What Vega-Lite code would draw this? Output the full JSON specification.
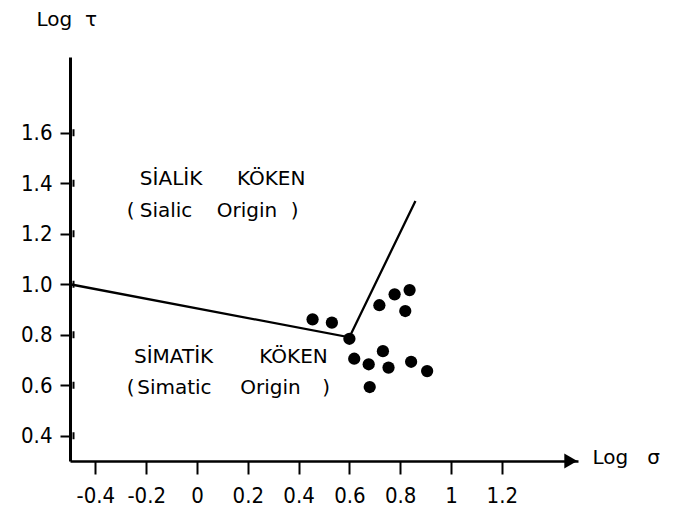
{
  "$schema": "https://vega.github.io/schema/vega-lite/v6.json",
  "width": 508,
  "height": 404,
  "autosize": "none",
  "padding": {"left": 70, "top": 57, "right": 100, "bottom": 51},
  "background": "white",
  "config": {
    "view": {"stroke": null},
    "axis": {"grid": false, "domainColor": "black", "tickColor": "black", "labelColor": "black", "titleColor": "black"}
  },
  "datasets": {
    "boundary": [
      {"x": -0.5, "y": 1.0, "order": 1},
      {"x": 0.6, "y": 0.79, "order": 2},
      {"x": 0.86, "y": 1.33, "order": 3}
    ],
    "samples": [
      {"x": 0.455, "y": 0.861},
      {"x": 0.531, "y": 0.848},
      {"x": 0.600, "y": 0.784},
      {"x": 0.718, "y": 0.917},
      {"x": 0.778, "y": 0.960},
      {"x": 0.837, "y": 0.977},
      {"x": 0.820, "y": 0.894},
      {"x": 0.619, "y": 0.705},
      {"x": 0.676, "y": 0.683},
      {"x": 0.732, "y": 0.735},
      {"x": 0.754, "y": 0.670},
      {"x": 0.843, "y": 0.693},
      {"x": 0.906, "y": 0.656},
      {"x": 0.680, "y": 0.593}
    ],
    "words": [
      {"x": -0.102, "y": 1.395, "text": "SİALİK"},
      {"x": 0.292, "y": 1.395, "text": "KÖKEN"},
      {"x": -0.261, "y": 1.267, "text": "("},
      {"x": -0.122, "y": 1.267, "text": "Sialic"},
      {"x": 0.197, "y": 1.267, "text": "Origin"},
      {"x": 0.384, "y": 1.267, "text": ")"},
      {"x": -0.092, "y": 0.689, "text": "SİMATİK"},
      {"x": 0.380, "y": 0.689, "text": "KÖKEN"},
      {"x": -0.261, "y": 0.564, "text": "("},
      {"x": -0.089, "y": 0.564, "text": "Simatic"},
      {"x": 0.289, "y": 0.564, "text": "Origin"},
      {"x": 0.508, "y": 0.564, "text": ")"}
    ],
    "arrow": [{"x": 1.4716, "y": 0.3}],
    "yticks": [
      {"y": 0.4}, {"y": 0.6}, {"y": 0.8}, {"y": 1.0}, {"y": 1.2}, {"y": 1.4}, {"y": 1.6}
    ]
  },
  "layer": [
    {
      "data": {"name": "boundary"},
      "mark": {"type": "line", "color": "black", "strokeWidth": 2.3},
      "encoding": {
        "x": {
          "field": "x",
          "type": "quantitative",
          "scale": {"domain": [-0.5, 1.5], "nice": false, "zero": false},
          "axis": {
            "values": [-0.4, -0.2, 0, 0.2, 0.4, 0.6, 0.8, 1, 1.2],
            "format": "~g",
            "labelExpr": "replace(datum.label, '\u2212', '-')",
            "domainWidth": 2.5,
            "tickWidth": 2,
            "tickSize": 13,
            "labelPadding": 11,
            "labelFont": "Liberation Sans Narrow, DejaVu Sans Condensed, sans-serif",
            "labelFontSize": 22,
            "title": "Log\u00a0\u00a0\u00a0σ",
            "titleFont": "DejaVu Sans",
            "titleFontSize": 20,
            "titleFontWeight": "normal",
            "titleAlign": "left",
            "titleBaseline": "alphabetic",
            "titleAnchor": "start",
            "titleX": 522,
            "titleY": 2
          }
        },
        "y": {
          "field": "y",
          "type": "quantitative",
          "scale": {"domain": [0.3, 1.9], "nice": false, "zero": false},
          "axis": {
            "orient": "left",
            "values": [0.4, 0.6, 0.8, 1.0, 1.2, 1.4, 1.6],
            "format": ".1f",
            "domainWidth": 3,
            "tickWidth": 2,
            "tickSize": 10,
            "labelPadding": 8,
            "labelFont": "Liberation Sans Narrow, DejaVu Sans Condensed, sans-serif",
            "labelFontSize": 22,
            "title": "Log\u00a0\u00a0τ",
            "titleFont": "DejaVu Sans",
            "titleFontSize": 20,
            "titleFontWeight": "normal",
            "titleAngle": 0,
            "titleAlign": "left",
            "titleBaseline": "alphabetic",
            "titleAnchor": "start",
            "titleX": -34,
            "titleY": -32
          }
        },
        "order": {"field": "order", "type": "quantitative"}
      }
    },
    {
      "data": {"name": "samples"},
      "mark": {"type": "point", "filled": true, "color": "black", "opacity": 1, "size": 150},
      "encoding": {
        "x": {"field": "x", "type": "quantitative"},
        "y": {"field": "y", "type": "quantitative"}
      }
    },
    {
      "data": {"name": "words"},
      "mark": {"type": "text", "font": "DejaVu Sans", "fontSize": 20, "color": "black", "align": "center", "baseline": "alphabetic"},
      "encoding": {
        "x": {"field": "x", "type": "quantitative"},
        "y": {"field": "y", "type": "quantitative"},
        "text": {"field": "text", "type": "nominal"}
      }
    },
    {
      "data": {"name": "arrow"},
      "mark": {"type": "point", "shape": "triangle-right", "filled": true, "color": "black", "opacity": 1, "size": 225},
      "encoding": {
        "x": {"field": "x", "type": "quantitative"},
        "y": {"field": "y", "type": "quantitative"}
      }
    },
    {
      "data": {"name": "yticks"},
      "mark": {"type": "tick", "orient": "vertical", "color": "black", "opacity": 1, "size": 7, "thickness": 2, "xOffset": 3.5},
      "encoding": {
        "x": {"datum": -0.5, "type": "quantitative"},
        "y": {"field": "y", "type": "quantitative"}
      }
    }
  ]
}
